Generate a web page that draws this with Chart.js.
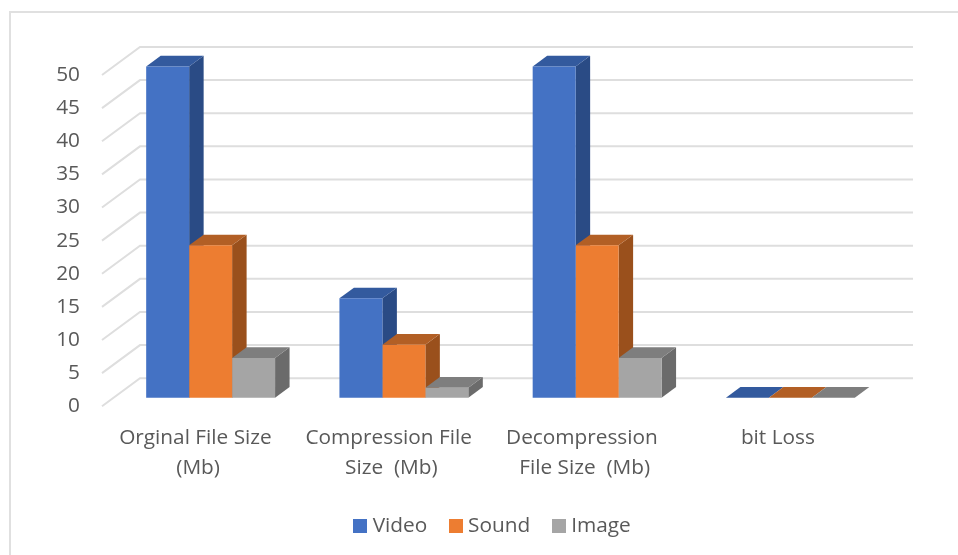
<!DOCTYPE html>
<html>
<head>
<meta charset="utf-8">
<script src="https://cdn.jsdelivr.net/npm/chart.js@4"></script>
<style>
  html, body { margin: 0; padding: 0; background: #fff; }
  #wrap { position: relative; width: 958px; height: 555px; overflow: hidden; }
  #frame { position: absolute; left: 9px; top: 11px; width: 960px; height: 560px; box-sizing: border-box; border: 2px solid #e0e0e0; }
  canvas { position: absolute; left: 0; top: 0; }
</style>
</head>
<body>
<div id="wrap">
  <div id="frame"></div>
  <canvas id="chart" width="958" height="555"></canvas>
</div>
<script>
const categories = [
  ["Orginal File Size ", "(Mb)"],
  ["Compression File ", "Size  (Mb)"],
  ["Decompression ", "File Size  (Mb)"],
  "bit Loss"
];
const videoValues = [50, 15, 50, 0];
const soundValues = [23, 8, 23, 0];
const imageValues = [6, 1.5, 6, 0];
const seriesNames = ["Video", "Sound", "Image"];
const frontColors = ["#4472C4", "#ED7D31", "#A5A5A5"];
const topColors = ["#335A9E", "#B25F25", "#7E7E7E"];
const sideColors = ["#2A4B85", "#9A501C", "#6B6B6B"];

// Oblique projection of the drawing: floor depth, bar plane shift, bar depth.
const wallDepth = { x: 38, y: -28 };
const barPlane = { x: 12, y: -8.5 };
const barDepth = { x: 14.5, y: -10.7 };
const legendShift = 57;

// Square legend swatches, painted once per series.
const swatches = frontColors.map(color => {
  const c = document.createElement("canvas");
  c.width = 14;
  c.height = 14;
  const g = c.getContext("2d");
  g.fillStyle = color;
  g.fillRect(0, 0, 14, 14);
  return c;
});

function polygon(ctx, points, fill) {
  ctx.beginPath();
  points.forEach(([x, y], i) => (i ? ctx.lineTo(x, y) : ctx.moveTo(x, y)));
  ctx.closePath();
  ctx.fillStyle = fill;
  ctx.fill();
}

const oblique3d = {
  id: "oblique3d",
  afterLayout(chart) {
    chart.legend.left += legendShift;
    chart.legend.right += legendShift;
  },
  beforeDatasetsDraw(chart) {
    const { ctx, chartArea, scales } = chart;
    // Wall and side-wall gridlines, one per y tick.
    ctx.save();
    ctx.strokeStyle = "#DEDEDE";
    ctx.lineWidth = 2;
    scales.y.ticks.forEach(tick => {
      const y = scales.y.getPixelForValue(tick.value);
      ctx.beginPath();
      ctx.moveTo(chartArea.left, y);
      ctx.lineTo(chartArea.left + wallDepth.x, y + wallDepth.y);
      ctx.lineTo(chartArea.right + wallDepth.x, y + wallDepth.y);
      ctx.stroke();
    });
    ctx.restore();

    // Bars live on a plane part-way back from the floor's front edge.
    ctx.save();
    ctx.translate(barPlane.x, barPlane.y);
    chart.data.datasets.forEach((ds, d) => {
      chart.getDatasetMeta(d).data.forEach(bar => {
        const left = bar.x - bar.width / 2;
        const right = bar.x + bar.width / 2;
        const top = bar.y;
        const base = bar.base;
        polygon(ctx, [
          [right, top], [right + barDepth.x, top + barDepth.y],
          [right + barDepth.x, base + barDepth.y], [right, base]
        ], sideColors[d]);
        polygon(ctx, [
          [left, top], [left + barDepth.x, top + barDepth.y],
          [right + barDepth.x, top + barDepth.y], [right, top]
        ], topColors[d]);
      });
    });
  },
  afterDatasetsDraw(chart) {
    chart.ctx.restore();
  }
};

new Chart(document.getElementById("chart"), {
  type: "bar",
  data: {
    labels: categories,
    datasets: [videoValues, soundValues, imageValues].map((data, i) => ({
      label: seriesNames[i],
      data,
      backgroundColor: frontColors[i],
      categoryPercentage: 0.667,
      barPercentage: 1,
      clip: false
    }))
  },
  options: {
    responsive: false,
    animation: false,
    layout: { padding: { top: 75, right: 83, bottom: 9, left: 0 } },
    plugins: {
      tooltip: { enabled: false },
      legend: {
        position: "bottom",
        labels: {
          usePointStyle: true,
          pointStyleWidth: 4,
          boxHeight: 14,
          padding: 26.5,
          color: "#595959",
          font: { family: "'Open Sans'", size: 20.8 },
          generateLabels(chart) {
            return Chart.defaults.plugins.legend.labels.generateLabels(chart)
              .map((item, i) => ({ ...item, pointStyle: swatches[i] }));
          }
        }
      }
    },
    scales: {
      x: {
        grid: { display: false, drawTicks: false },
        border: { display: false },
        ticks: {
          color: "#595959",
          font: { family: "'Open Sans'", size: 20.8, lineHeight: 1.45 },
          maxRotation: 0,
          autoSkip: false,
          padding: 17,
          labelOffset: -0.5
        },
        afterFit(scale) { scale.height = 82.5; }
      },
      y: {
        min: 0,
        max: 50,
        grid: { display: false, drawTicks: false },
        border: { display: false },
        ticks: {
          stepSize: 5,
          color: "#595959",
          font: { family: "'Open Sans'", size: 20.8 },
          padding: 22,
          labelOffset: 0
        },
        afterFit(scale) { scale.width = 102; }
      }
    }
  },
  plugins: [oblique3d]
});
</script>
</body>
</html>
